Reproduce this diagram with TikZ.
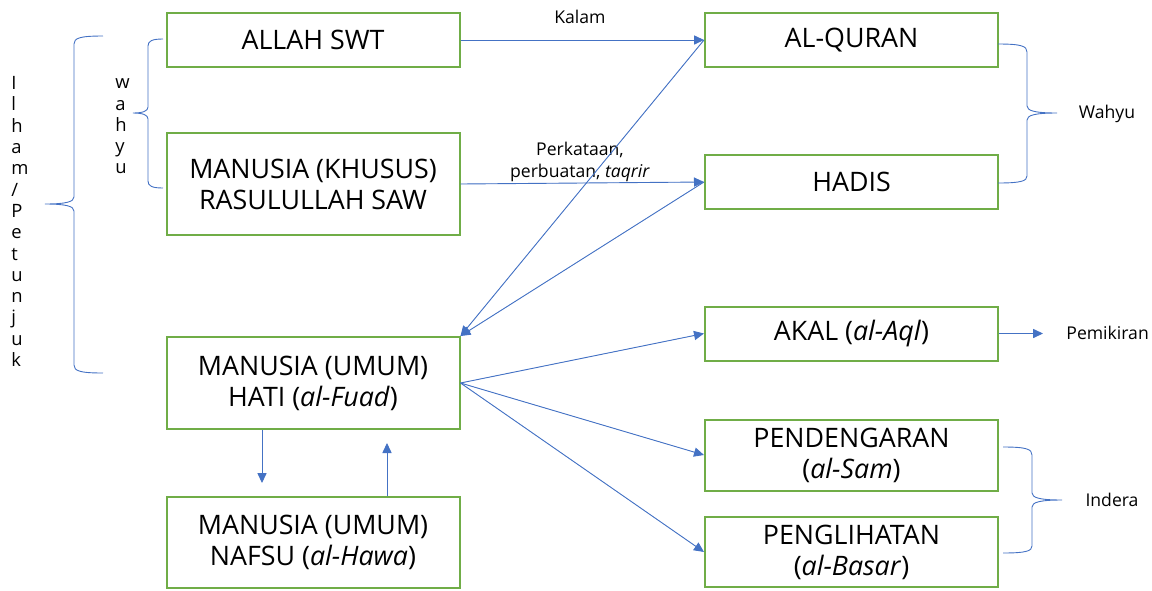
\documentclass[tikz,border=0pt]{standalone}
\usepackage{fontspec}
\setmainfont{Open Sans}
\usetikzlibrary{arrows.meta}
\definecolor{boxgreen}{HTML}{70AD47}
\definecolor{lineblue}{HTML}{4472C4}
\begin{document}
\begin{tikzpicture}[x=0.5pt,y=-0.5pt,
  box/.style={draw=boxgreen,line width=1pt,fill=white,minimum width=146.5pt,inner sep=0pt,align=center,font=\fontsize{13.4}{15.5}\selectfont},
  arr/.style={draw=lineblue,line width=0.45pt,-{Triangle[length=5pt,width=4.6pt]},fill=lineblue},
  brace/.style={draw=lineblue,line width=0.45pt},
  lbl/.style={font=\fontsize{8.8}{10.8}\selectfont,inner sep=0pt},
  vlbl/.style={font=\fontsize{9.2}{10.65}\selectfont,inner sep=0pt,align=left}]
\useasboundingbox (0,0) rectangle (1152,590);
% boxes
\node[box,minimum height=27pt] (allah) at (313,40) {ALLAH SWT};
\node[box,minimum height=51pt] (khusus) at (313,184) {MANUSIA (KHUSUS)\\RASULULLAH SAW};
\node[box,minimum height=46pt] (hati) at (313,383) {MANUSIA (UMUM)\\HATI (\textit{al-Fuad})};
\node[box,minimum height=45.5pt] (nafsu) at (313,542.5) {MANUSIA (UMUM)\\NAFSU (\textit{al-Hawa})};
\node[box,minimum height=27pt] (quran) at (851.5,40) {AL-QURAN};
\node[box,minimum height=27pt] (hadis) at (851.5,182) {HADIS};
\node[box,minimum height=27pt] (akal) at (851.5,333.5) {AKAL (\textit{al-Aql})};
\node[box,minimum height=35.5pt] (pend) at (851.5,455) {PENDENGARAN\\(\textit{al-Sam})};
\node[box,minimum height=35pt] (peng) at (851.5,552) {PENGLIHATAN\\(\textit{al-Basar})};
% labels
\node[lbl] (kalam) at (580,17) {Kalam};
\node[lbl,align=center] (perk) at (580,162) {Perkataan,\\perbuatan, \textit{taqrir}};
\node[lbl] (wahyuR) at (1107,114) {Wahyu};
\node[lbl] (indera) at (1112,500) {Indera};
\node[lbl,anchor=west] (pemikiran) at (1066,333) {Pemikiran};
\node[vlbl,anchor=west] (ilham) at (11,221.5) {I\\l\\h\\a\\m\\/\\P\\e\\t\\u\\n\\j\\u\\k};
\node[vlbl,anchor=west] (wahyuL) at (115,126.5) {w\\a\\h\\y\\u};
% connectors
\draw[arr] (allah.east) -- (quran.west);
\draw[arr] (khusus.east) -- (hadis.west);
\draw[arr] (quran.west) -- (hati.north east);
\draw[arr] (hadis.west) -- (hati.north east);
\draw[arr] (hati.east) -- (akal.west);
\draw[arr] (hati.east) -- (pend.west);
\draw[arr] (hati.east) -- (peng.west);
\coordinate (pm) at (1043,333.5);
\draw[arr] (akal.east) -- (pm);
\coordinate (dn) at (262,483);
\coordinate (up) at (387,443);
\draw[arr] (hati.south -| dn) -- (dn);
\draw[arr] (nafsu.north -| up) -- (up);
% braces right
\draw[brace] (998,44) .. controls (1021,44) and (1027,46) .. (1027,52) -- (1027,106)
  .. controls (1027,111) and (1036,113) .. (1057,113)
  .. controls (1036,113) and (1027,115) .. (1027,120) -- (1027,176)
  .. controls (1027,181) and (1021,183) .. (998,183);
\draw[brace] (1003,447) .. controls (1026,447) and (1032,449) .. (1032,455) -- (1032,493)
  .. controls (1032,498) and (1041,500) .. (1062,500)
  .. controls (1041,500) and (1032,502) .. (1032,507) -- (1032,546)
  .. controls (1032,551) and (1026,553) .. (1003,553);
% braces left
\draw[brace] (103,36) .. controls (80,36) and (74,38) .. (74,44) -- (74,197)
  .. controls (74,202) and (65,204) .. (45,204)
  .. controls (65,204) and (74,206) .. (74,211) -- (74,365)
  .. controls (74,371) and (80,373) .. (103,373);
\draw[brace] (163,39) .. controls (152,39) and (148,41) .. (148,46) -- (148,107)
  .. controls (148,111) and (143,113) .. (133,113)
  .. controls (143,113) and (148,115) .. (148,119) -- (148,181)
  .. controls (148,186) and (152,188) .. (163,188);
\end{tikzpicture}
\end{document}
